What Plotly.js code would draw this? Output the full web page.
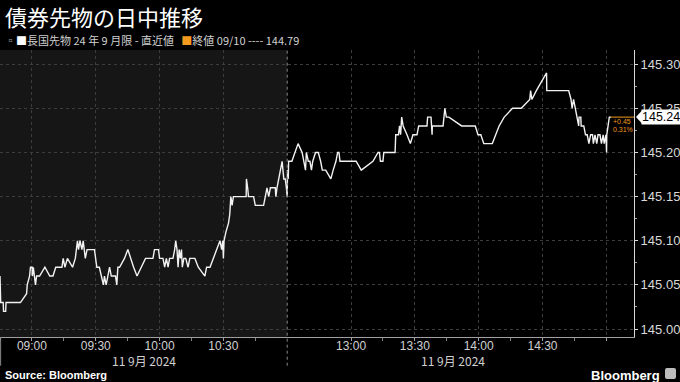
<!DOCTYPE html>
<html>
<head>
<meta charset="utf-8">
<script src="https://cdn.plot.ly/plotly-3.0.1.min.js"></script>
<style>
html,body{margin:0;padding:0;background:#000;}
#chart{width:680px;height:382px;}
</style>
</head>
<body>
<div id="chart"></div>
<script>
// ---- data ----
const tradeDate = '2024-09-11';
const times = [
'08:45:00','08:45:20','08:46:30','08:46:40','08:47:40','08:47:50','08:54:36','08:57:30','08:57:48','08:58:54',
'08:59:20','09:00:06','09:00:12','09:00:40','09:01:40','09:02:12','09:03:36','09:06:06','09:08:24','09:09:54',
'09:11:12','09:14:06','09:14:42','09:15:30','09:16:42','09:19:06','09:20:24','09:21:00','09:21:24','09:21:54',
'09:22:36','09:23:30','09:24:06','09:25:06','09:25:54','09:29:24','09:30:30','09:31:42','09:33:36','09:34:06',
'09:34:54','09:35:42','09:36:30','09:37:18','09:39:18','09:39:54','09:40:24','09:41:12','09:43:30','09:45:06',
'09:46:18','09:47:48','09:49:24','09:53:24','09:56:54','09:57:36','09:59:30','10:00:00','10:01:36','10:02:24',
'10:03:12','10:04:00','10:04:42','10:06:18','10:07:06','10:07:36','10:08:12','10:08:42','10:09:12','10:09:48',
'10:10:18','10:10:42','10:11:24','10:12:18','10:13:24','10:14:12','10:16:36','10:18:12','10:21:18','10:22:06',
'10:23:42','10:25:18','10:26:48','10:28:24','10:29:12','10:29:42','10:30:00','10:30:18','10:31:12','10:32:24',
'10:33:00','10:33:30','10:34:06','10:34:42','10:40:42','10:40:50','10:41:24','10:41:48','10:44:12','10:45:00',
'10:48:54','10:49:42','10:50:30','10:51:18','10:52:06','10:54:24','10:54:40','10:55:12','10:56:00','10:56:48',
'10:57:36','10:58:24','10:59:06','10:59:36',
'12:30:00','12:30:10','12:30:30','12:30:40','12:32:12','12:35:06','12:37:00','12:38:36','12:39:00','12:39:54',
'12:40:40','12:41:24','12:42:00','12:43:18','12:44:36','12:45:42','12:46:30','12:48:06','12:50:30','12:51:36',
'12:52:54','12:53:42','12:54:20','12:54:48','13:02:24','13:04:48','13:10:18','13:12:42','13:13:20','13:13:48',
'13:15:00','13:15:24','13:20:42','13:21:00','13:22:18','13:22:48','13:23:18','13:23:48','13:24:30','13:26:18',
'13:27:54','13:29:06','13:31:00','13:31:48','13:35:42','13:36:00','13:37:36','13:38:06','13:38:12','13:43:15',
'13:44:06','13:44:48','13:46:00','13:52:00','13:58:24','13:59:40','14:01:00','14:02:24','14:06:24','14:08:00',
'14:09:36','14:12:00','14:15:54','14:20:00','14:24:00','14:24:24','14:25:00','14:27:06','14:31:54','14:32:00',
'14:42:18','14:43:24','14:43:54','14:44:36','14:45:30','14:46:18','14:47:00','14:47:10','14:48:00','14:48:10',
'14:49:24','14:50:12','14:51:00','14:51:48','14:52:36','14:53:30','14:53:54','14:54:40','14:55:30','14:56:06',
'14:57:00','14:57:42','14:58:30','14:59:00','14:59:48','15:00:06','15:00:12','15:01:24','15:02:12'
];
const prices = [
145.06,145.03,145.03,145.02,145.02,145.03,145.03,145.04,145.05,145.06,
145.07,145.07,145.06,145.07,145.05,145.06,145.06,145.07,145.06,145.06,
145.07,145.07,145.08,145.07,145.08,145.07,145.08,145.09,145.10,145.09,
145.10,145.09,145.10,145.08,145.09,145.09,145.07,145.07,145.05,145.06,
145.05,145.06,145.07,145.06,145.06,145.05,145.07,145.07,145.08,145.09,
145.08,145.07,145.06,145.08,145.08,145.09,145.09,145.08,145.08,145.07,
145.08,145.07,145.08,145.08,145.09,145.10,145.09,145.07,145.09,145.08,
145.09,145.07,145.08,145.08,145.07,145.08,145.08,145.07,145.06,145.07,
145.07,145.08,145.09,145.10,145.09,145.10,145.08,145.10,145.11,145.12,
145.13,145.15,145.14,145.15,145.15,145.17,145.16,145.15,145.15,145.14,
145.14,145.15,145.16,145.15,145.16,145.16,145.15,145.16,145.17,145.18,
145.19,145.17,145.17,145.16,
145.15,145.18,145.17,145.19,145.19,145.21,145.20,145.18,145.20,145.19,
145.19,145.18,145.19,145.20,145.20,145.19,145.18,145.18,145.17,145.18,
145.19,145.20,145.20,145.19,145.19,145.18,145.19,145.20,145.20,145.19,
145.19,145.20,145.20,145.22,145.22,145.23,145.22,145.24,145.23,145.22,
145.21,145.22,145.22,145.23,145.23,145.24,145.24,145.22,145.23,145.23,
145.25,145.24,145.24,145.23,145.23,145.22,145.22,145.21,145.21,145.22,
145.23,145.24,145.25,145.25,145.26,145.27,145.26,145.27,145.29,145.27,
145.27,145.26,145.25,145.26,145.25,145.24,145.23,145.24,145.24,145.23,
145.23,145.22,145.22,145.21,145.22,145.22,145.21,145.22,145.21,145.22,
145.22,145.21,145.22,145.21,145.22,145.20,145.22,145.24,145.24
];
const prevClose = 144.79;
const prevCloseDate = '09/10';
const seriesName = '長国先物 24 年 9 月限 - 直近値';
const xTickTimes = ['09:00','09:30','10:00','10:30','13:00','13:30','14:00','14:30','15:00'];
const xTickLabels = ['09:00','09:30','10:00','10:30','13:00','13:30','14:00','14:30',''];
const xMinorTimes = ['08:45','09:15','09:45','10:15','10:45','13:15','13:45','14:15','14:45'];
const yTickVals = [145.00,145.05,145.10,145.15,145.20,145.25,145.30];
const dateLabel = '11 9月 2024';
const sessionBreak = ['11:00','12:30'];
const viewStart = '08:45', viewEnd = '15:13';
const titleText = '債券先物の日中推移';

// ---- build ----
const d = t => tradeDate + ' ' + t;
const xs = times.map(d);
const last = prices[prices.length - 1];
const lastX = xs[xs.length - 1];
const chg = last - prevClose;
const pct = chg / prevClose * 100;

const FONT = '"Liberation Sans", "Noto Sans CJK JP", sans-serif';
const CJK = '"Noto Sans CJK JP", "Liberation Sans", sans-serif';
const ORANGE = '#f39a1e';
const GRID = '#3d3d3d';

const trace = {
  x: xs, y: prices, type: 'scatter', mode: 'lines',
  line: {color: '#f2f2f2', width: 1.4, shape: 'linear'},
  hoverinfo: 'skip', showlegend: false
};

const layout = {
  width: 680, height: 382,
  margin: {l: 0, r: 46, t: 50, b: 45},
  paper_bgcolor: '#000', plot_bgcolor: '#000',
  showlegend: false,
  xaxis: {
    type: 'date',
    range: [d(viewStart), d(viewEnd)],
    rangebreaks: [{bounds: [d(sessionBreak[0]), d(sessionBreak[1])]}],
    tickmode: 'array',
    tickvals: xTickTimes.map(d),
    ticktext: xTickLabels,
    showgrid: true, gridcolor: GRID, griddash: 'dot', gridwidth: 1,
    showline: true, linecolor: '#a0a0a0', linewidth: 1,
    ticks: 'outside', ticklen: 3, tickcolor: '#a0a0a0',
    ticklabelstandoff: -5,
    tickfont: {family: FONT, size: 12, color: '#d0d0d0'},
    minor: {tickmode: 'array', tickvals: xMinorTimes.map(d), ticks: 'outside', ticklen: 3, tickcolor: '#808080', showgrid: false},
    zeroline: false, fixedrange: true
  },
  yaxis: {
    side: 'right',
    range: [144.991, 145.316],
    tickmode: 'array', tickvals: yTickVals,
    ticktext: yTickVals.map(v => v.toFixed(2)),
    showgrid: true, gridcolor: GRID, griddash: 'dot', gridwidth: 1,
    showline: true, linecolor: '#d8d8d8', linewidth: 1,
    ticks: 'outside', ticklen: 3, tickcolor: '#d8d8d8',
    minor: {dtick: 0.025, ticks: 'outside', ticklen: 2, tickcolor: '#a0a0a0', showgrid: false},
    tickfont: {family: FONT, size: 13, color: '#d8d8d8'},
    zeroline: false, fixedrange: true
  },
  shapes: [
    {type: 'rect', xref: 'x', yref: 'paper', x0: d(viewStart), x1: d(sessionBreak[0]), y0: 0, y1: 1,
     fillcolor: '#161616', line: {width: 0}, layer: 'below'},
    {type: 'line', xref: 'x', yref: 'paper', x0: d(sessionBreak[1]), x1: d(sessionBreak[1]), y0: -0.1, y1: 1,
     line: {color: '#8a8a8a', width: 1, dash: 'dot'}},
    {type: 'line', xref: 'paper', yref: 'paper', x0: 0.001, x1: 0.001, y0: -0.1, y1: 0,
     line: {color: '#8a8a8a', width: 1}},
    {type: 'line', xref: 'x', yref: 'y', x0: lastX, x1: d(viewEnd), y0: last, y1: last,
     line: {color: ORANGE, width: 1}}
  ],
  annotations: [
    {xref: 'paper', yref: 'paper', x: -0.0, y: 1.118, xanchor: 'left', yanchor: 'middle', xshift: 3,
     text: titleText, showarrow: false, font: {family: CJK, size: 22, color: '#ffffff'}},
    {xref: 'paper', yref: 'paper', x: 0, y: 1.035, xanchor: 'left', yanchor: 'middle', xshift: 3,
     text: '<span style="color:#9a9a9a">▫</span><span style="color:#ffffff">■</span>' + seriesName +
           '   <span style="color:' + ORANGE + '">■</span>終値 ' + prevCloseDate + ' ---- ' + prevClose.toFixed(2),
     showarrow: false, font: {family: CJK, size: 11, color: '#d0d0d0'}},
    {xref: 'x', yref: 'paper', x: d('09:52:30'), y: -0.083, xanchor: 'center', yanchor: 'middle',
     text: dateLabel, showarrow: false, font: {family: CJK, size: 12, color: '#d0d0d0'}},
    {xref: 'x', yref: 'paper', x: d('13:48:00'), y: -0.083, xanchor: 'center', yanchor: 'middle',
     text: dateLabel, showarrow: false, font: {family: CJK, size: 12, color: '#d0d0d0'}},
    {xref: 'paper', yref: 'paper', x: 0, y: -0.134, xanchor: 'left', yanchor: 'middle', xshift: 3,
     text: '<b>Source: Bloomberg</b>', showarrow: false, font: {family: FONT, size: 11, color: '#ffffff'}},
    {xref: 'paper', yref: 'paper', x: 1, y: -0.134, xanchor: 'right', yanchor: 'middle', xshift: 28,
     text: '<b>Bloomberg</b>', showarrow: false, font: {family: FONT, size: 13, color: '#ffffff'}},
    {xref: 'paper', yref: 'y', x: 1, y: last, xanchor: 'left', yanchor: 'middle', xshift: 7,
     text: last.toFixed(2), showarrow: false, bgcolor: '#ffffff', borderpad: 0,
     font: {family: FONT, size: 12.5, color: '#000000'}},
    {xref: 'x', yref: 'y', x: lastX, y: last, xanchor: 'left', yanchor: 'middle', xshift: 0, yshift: -4,
     text: (chg >= 0 ? '+' : '') + chg.toFixed(2), showarrow: false, font: {family: FONT, size: 7, color: ORANGE}},
    {xref: 'x', yref: 'y', x: lastX, y: last, xanchor: 'left', yanchor: 'middle', xshift: 0, yshift: -12,
     text: pct.toFixed(2) + '%', showarrow: false, font: {family: FONT, size: 7, color: ORANGE}}
  ]
};

Plotly.newPlot('chart', [trace], layout, {displayModeBar: false, staticPlot: true}).then(gd => {
  // pointer triangle for the last-value tag and the logo mark, placed from the axis scale
  const ya = gd._fullLayout.yaxis;
  const sz = gd._fullLayout._size;
  const py = sz.t + ya.l2p(last);
  const px = sz.l + sz.w;
  const svgs = gd.querySelectorAll('svg.main-svg');
  const svg = svgs[svgs.length - 1];
  const ns = 'http://www.w3.org/2000/svg';
  const tri = document.createElementNS(ns, 'path');
  tri.setAttribute('d', `M${px + 2},${py} L${px + 8},${py - 6.5} L${px + 8},${py + 6.5} Z`);
  tri.setAttribute('fill', '#ffffff');
  svg.appendChild(tri);
  const logo = document.createElementNS(ns, 'rect');
  logo.setAttribute('x', 665); logo.setAttribute('y', 368); logo.setAttribute('width', 11); logo.setAttribute('height', 11);
  logo.setAttribute('rx', 2); logo.setAttribute('fill', '#bdbdbd');
  svg.appendChild(logo);
});
</script>
</body>
</html>
